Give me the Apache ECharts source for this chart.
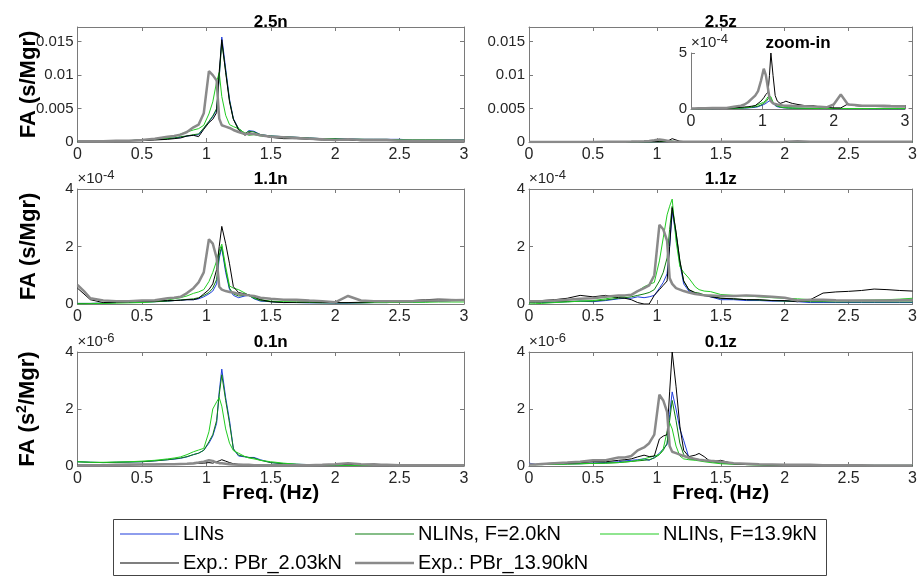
<!DOCTYPE html>
<html>
<head>
<meta charset="utf-8">
<script src="https://cdn.jsdelivr.net/npm/echarts@6/dist/echarts.min.js"></script>
<style>
  html, body { margin: 0; padding: 0; background: #ffffff; }
  #chart { width: 920px; height: 577px; }
</style>
</head>
<body>
<div id="chart"></div>
<script>
// Frequency grid (Hz) shared by every spectrum
const FREQ = [0, 0.05, 0.1, 0.2, 0.3, 0.4, 0.5, 0.6, 0.7, 0.75, 0.8, 0.85, 0.9, 0.94, 0.98, 1.02, 1.05, 1.08, 1.1, 1.12,
  1.15, 1.18, 1.21, 1.25, 1.3, 1.33, 1.37, 1.42, 1.5, 1.6, 1.7, 1.8, 1.9, 2.0, 2.1, 2.2, 2.3, 2.4, 2.5, 2.6, 2.7, 2.8, 2.9, 3.0];

const SERIES_NAMES = ['LINs', 'NLINs, F=2.0kN', 'NLINs, F=13.9kN', 'Exp.: PBr_2.03kN', 'Exp.: PBr_13.90kN'];

// 2.5n, FA in units of 1e-3 s/Mgr
const lin_25n  = [0.1,0.1,0.1,0.1,0.2,0.2,0.3,0.4,0.5,0.6,0.7,0.9,1.0,1.1,2.0,3.0,3.8,4.8,9.5,15.7,11.0,6.4,3.5,2.0,1.2,1.7,1.6,1.1,0.9,0.8,0.7,0.6,0.5,0.5,0.5,0.4,0.4,0.4,0.4,0.3,0.3,0.3,0.3,0.3];
const nl2_25n  = [0.1,0.1,0.1,0.1,0.2,0.2,0.3,0.4,0.5,0.6,0.8,0.9,1.1,1.2,2.1,3.1,3.9,5.0,9.8,14.9,10.6,6.2,3.4,2.0,1.3,1.6,1.5,1.1,0.9,0.8,0.7,0.6,0.5,0.5,0.4,0.4,0.4,0.4,0.3,0.3,0.3,0.3,0.3,0.3];
const nl13_25n = [0.1,0.1,0.1,0.1,0.2,0.2,0.3,0.4,0.6,0.8,1.2,1.5,1.8,2.0,2.5,4.2,6.0,9.0,10.4,6.8,4.0,2.6,2.3,2.0,1.3,1.0,1.1,0.9,0.8,0.6,0.6,0.5,0.5,0.4,0.4,0.4,0.3,0.3,0.3,0.3,0.3,0.3,0.2,0.2];
const exp2_25n = [0.1,0.1,0.1,0.1,0.1,0.2,0.2,0.3,0.4,0.5,0.6,0.9,1.0,0.8,1.9,2.9,3.4,4.4,10.5,15.3,10.4,6.0,3.4,1.8,1.0,1.4,1.2,1.0,0.7,0.5,0.5,0.4,0.3,0.3,0.3,0.2,0.2,0.2,0.2,0.2,0.2,0.2,0.2,0.2];
const exp13_25n = [0.1,0.1,0.1,0.1,0.2,0.2,0.3,0.5,0.8,0.9,1.1,1.5,2.2,2.6,4.3,10.6,10.0,9.2,3.5,2.5,2.3,2.1,1.8,1.5,1.2,1.2,1.2,1.0,0.8,0.7,0.6,0.5,0.4,0.3,0.4,0.3,0.3,0.3,0.2,0.2,0.2,0.2,0.2,0.2];

// 2.5z, FA in units of 1e-4 s/Mgr (main panel and zoom-in)
const lin_25z  = [0.02,0.02,0.02,0.03,0.03,0.04,0.05,0.06,0.08,0.09,0.1,0.12,0.15,0.2,0.3,0.4,0.5,0.65,0.8,0.8,0.5,0.3,0.2,0.15,0.1,0.1,0.08,0.07,0.06,0.05,0.05,0.04,0.04,0.03,0.03,0.03,0.03,0.03,0.02,0.02,0.02,0.02,0.02,0.02];
const nl2_25z  = [0.02,0.02,0.02,0.03,0.03,0.04,0.05,0.06,0.08,0.1,0.12,0.15,0.2,0.25,0.35,0.5,0.65,0.9,1.1,1.0,0.6,0.35,0.25,0.18,0.12,0.1,0.09,0.08,0.07,0.06,0.05,0.05,0.04,0.04,0.04,0.03,0.03,0.03,0.03,0.03,0.03,0.02,0.02,0.02];
const nl13_25z = [0.02,0.02,0.02,0.03,0.04,0.05,0.06,0.08,0.1,0.12,0.15,0.2,0.3,0.4,0.5,0.6,0.8,1.1,1.25,1.1,0.6,0.4,0.3,0.2,0.15,0.12,0.1,0.09,0.08,0.07,0.06,0.05,0.05,0.05,0.04,0.04,0.04,0.04,0.04,0.04,0.04,0.04,0.04,0.04];
const exp2_25z = [0.05,0.05,0.05,0.05,0.06,0.07,0.08,0.1,0.15,0.18,0.2,0.25,0.3,0.5,0.7,1.0,1.3,1.5,3.0,5.0,3.0,1.2,0.7,0.5,0.6,0.7,0.6,0.5,0.4,0.3,0.3,0.2,0.15,0.1,0.1,0.45,0.3,0.25,0.25,0.22,0.2,0.2,0.2,0.2];
const exp13_25z = [0.05,0.05,0.06,0.07,0.08,0.09,0.1,0.2,0.3,0.4,0.6,0.9,1.2,1.6,2.5,3.6,3.0,1.8,1.0,0.7,0.5,0.45,0.4,0.35,0.3,0.3,0.3,0.28,0.25,0.25,0.22,0.2,0.15,0.4,1.3,0.4,0.35,0.3,0.3,0.28,0.28,0.26,0.25,0.25];

// 1.1n, FA in units of 1e-4 s/Mgr
const lin_11n  = [0.02,0.02,0.02,0.03,0.05,0.06,0.07,0.08,0.1,0.12,0.13,0.15,0.15,0.18,0.25,0.35,0.45,0.7,1.6,1.95,1.1,0.5,0.3,0.22,0.28,0.3,0.18,0.1,0.08,0.05,0.05,0.04,0.04,0.03,0.03,0.04,0.05,0.05,0.06,0.07,0.08,0.1,0.12,0.14];
const nl2_11n  = [0.02,0.02,0.02,0.03,0.05,0.06,0.07,0.08,0.1,0.12,0.14,0.16,0.18,0.22,0.3,0.4,0.55,0.85,1.7,2.0,1.2,0.55,0.35,0.28,0.3,0.3,0.2,0.12,0.08,0.06,0.05,0.05,0.04,0.04,0.04,0.04,0.05,0.05,0.06,0.07,0.08,0.1,0.12,0.13];
const nl13_11n = [0.0,0.0,0.01,0.02,0.03,0.04,0.05,0.08,0.14,0.18,0.22,0.28,0.37,0.42,0.5,0.78,1.1,1.5,1.85,2.08,1.3,0.63,0.55,0.5,0.38,0.3,0.22,0.15,0.1,0.08,0.07,0.06,0.05,0.05,0.05,0.05,0.05,0.05,0.06,0.06,0.06,0.07,0.07,0.07];
const exp2_11n = [0.55,0.35,0.15,0.05,0.07,0.08,0.1,0.1,0.12,0.12,0.13,0.15,0.15,0.2,0.35,0.5,0.7,1.2,2.0,2.7,2.1,1.4,0.6,0.4,0.35,0.32,0.25,0.15,0.08,0.05,0.06,0.07,0.06,0.05,0.05,0.06,0.08,0.1,0.1,0.12,0.15,0.17,0.16,0.15];
const exp13_11n = [0.66,0.45,0.2,0.12,0.1,0.1,0.12,0.13,0.2,0.22,0.25,0.38,0.55,0.75,1.1,2.25,2.1,1.6,0.6,0.5,0.45,0.42,0.4,0.35,0.32,0.3,0.28,0.22,0.18,0.15,0.15,0.12,0.1,0.06,0.28,0.12,0.1,0.1,0.1,0.1,0.12,0.12,0.13,0.14];

// 1.1z, FA in units of 1e-4 s/Mgr
const lin_11z  = [0.05,0.05,0.05,0.06,0.08,0.1,0.08,0.12,0.18,0.2,0.2,0.25,0.22,0.25,0.3,0.55,0.75,1.05,2.0,3.2,2.4,1.4,0.7,0.45,0.35,0.35,0.3,0.25,0.15,0.15,0.12,0.12,0.1,0.1,0.08,0.05,0.05,0.05,0.05,0.05,0.05,0.05,0.05,0.05];
const nl2_11z  = [0.05,0.05,0.06,0.07,0.09,0.1,0.1,0.14,0.2,0.22,0.25,0.3,0.35,0.4,0.5,0.8,1.1,1.6,2.6,3.4,2.5,1.5,0.8,0.5,0.4,0.38,0.32,0.28,0.2,0.18,0.15,0.14,0.12,0.1,0.1,0.08,0.08,0.07,0.07,0.07,0.07,0.07,0.07,0.07];
const nl13_11z = [0.0,0.01,0.02,0.05,0.07,0.1,0.12,0.18,0.25,0.28,0.32,0.45,0.6,0.68,0.75,1.5,2.3,3.1,3.4,3.65,2.2,1.3,1.1,0.9,0.6,0.5,0.45,0.43,0.33,0.3,0.28,0.25,0.22,0.2,0.18,0.15,0.12,0.12,0.12,0.13,0.14,0.15,0.17,0.2];
const exp2_11z = [0.1,0.1,0.12,0.15,0.2,0.3,0.25,0.3,0.22,0.2,0.15,0.05,0.0,0.0,0.3,0.5,0.65,0.8,2.0,3.35,2.5,1.5,0.8,0.5,0.38,0.35,0.3,0.25,0.2,0.18,0.15,0.15,0.12,0.12,0.08,0.15,0.38,0.42,0.44,0.47,0.52,0.5,0.47,0.45];
const exp13_11z = [0.1,0.1,0.1,0.12,0.15,0.18,0.2,0.25,0.3,0.3,0.32,0.45,0.55,0.65,1.0,2.75,2.6,2.2,0.9,0.7,0.55,0.5,0.45,0.4,0.35,0.33,0.3,0.3,0.28,0.28,0.3,0.28,0.25,0.22,0.12,0.15,0.15,0.13,0.12,0.12,0.12,0.12,0.13,0.14];

// 0.1n, FA in units of 1e-6 s^2/Mgr
const lin_01n  = [0.15,0.14,0.13,0.12,0.13,0.14,0.15,0.18,0.22,0.24,0.27,0.32,0.4,0.45,0.55,0.8,1.05,1.5,2.6,3.4,2.4,1.6,0.6,0.35,0.32,0.3,0.3,0.22,0.12,0.08,0.06,0.05,0.04,0.03,0.03,0.02,0.02,0.02,0.02,0.02,0.02,0.02,0.02,0.02];
const nl2_01n  = [0.15,0.14,0.13,0.12,0.13,0.14,0.15,0.18,0.22,0.25,0.28,0.33,0.4,0.45,0.55,0.85,1.1,1.6,2.5,3.2,2.3,1.5,0.6,0.38,0.33,0.3,0.28,0.2,0.12,0.08,0.06,0.05,0.04,0.03,0.03,0.02,0.02,0.02,0.02,0.02,0.02,0.02,0.02,0.02];
const nl13_01n = [0.15,0.14,0.13,0.13,0.14,0.15,0.17,0.2,0.25,0.28,0.32,0.4,0.5,0.56,0.62,1.2,2.0,2.25,2.4,2.1,1.3,0.8,0.54,0.45,0.33,0.28,0.25,0.2,0.15,0.1,0.06,0.04,0.03,0.03,0.02,0.02,0.02,0.02,0.02,0.02,0.02,0.02,0.02,0.02];
const exp2_01n = [0.05,0.05,0.05,0.05,0.05,0.06,0.06,0.06,0.07,0.07,0.08,0.08,0.08,0.09,0.1,0.12,0.1,0.15,0.18,0.22,0.17,0.12,0.08,0.06,0.05,0.05,0.05,0.04,0.04,0.04,0.04,0.04,0.04,0.05,0.06,0.05,0.07,0.04,0.04,0.04,0.04,0.04,0.04,0.04];
const exp13_01n = [0.03,0.03,0.03,0.03,0.04,0.04,0.05,0.05,0.06,0.06,0.07,0.08,0.1,0.12,0.15,0.2,0.18,0.12,0.1,0.1,0.08,0.06,0.05,0.04,0.04,0.04,0.03,0.03,0.03,0.03,0.03,0.03,0.04,0.06,0.1,0.06,0.04,0.04,0.03,0.03,0.03,0.03,0.03,0.03];

// 0.1z, FA in units of 1e-6 s^2/Mgr
const lin_01z  = [0.1,0.06,0.05,0.07,0.08,0.08,0.1,0.12,0.15,0.18,0.2,0.22,0.25,0.2,0.3,0.45,0.6,0.75,1.8,2.6,2.0,1.3,0.9,0.3,0.25,0.22,0.2,0.18,0.12,0.08,0.06,0.05,0.04,0.03,0.03,0.02,0.02,0.02,0.02,0.02,0.02,0.02,0.02,0.02];
const nl2_01z  = [0.05,0.05,0.05,0.06,0.07,0.08,0.09,0.1,0.12,0.14,0.16,0.18,0.2,0.22,0.28,0.4,0.55,0.8,1.6,2.3,1.6,0.8,0.4,0.25,0.22,0.2,0.18,0.15,0.1,0.07,0.05,0.04,0.03,0.03,0.02,0.02,0.02,0.02,0.02,0.02,0.02,0.02,0.02,0.02];
const nl13_01z = [0.05,0.05,0.05,0.06,0.07,0.08,0.09,0.1,0.12,0.14,0.16,0.2,0.25,0.3,0.35,0.4,0.6,1.2,1.52,1.3,0.7,0.35,0.25,0.22,0.2,0.18,0.15,0.12,0.08,0.06,0.05,0.04,0.03,0.03,0.02,0.02,0.02,0.02,0.02,0.02,0.02,0.02,0.02,0.02];
const exp2_01z = [0.05,0.05,0.08,0.1,0.1,0.12,0.15,0.15,0.2,0.22,0.25,0.32,0.38,0.33,0.35,0.95,1.05,1.1,2.6,4.0,2.8,1.4,0.55,0.33,0.38,0.44,0.33,0.15,0.2,0.08,0.05,0.05,0.04,0.04,0.03,0.03,0.04,0.03,0.02,0.02,0.02,0.02,0.02,0.02];
const exp13_01z = [0.05,0.05,0.07,0.1,0.12,0.15,0.2,0.2,0.3,0.3,0.35,0.55,0.65,0.8,1.1,2.5,2.3,1.9,0.7,0.5,0.45,0.4,0.35,0.3,0.25,0.22,0.2,0.18,0.15,0.1,0.08,0.06,0.05,0.04,0.04,0.04,0.03,0.03,0.03,0.03,0.02,0.02,0.02,0.02];

// Line style for each series, in SERIES_NAMES order
const LINE_STYLES = [
  { color: '#1f3ddc', width: 1 },
  { color: '#0f7f12', width: 1 },
  { color: '#22cc22', width: 1 },
  { color: '#000000', width: 1 },
  { color: '#8a8a8a', width: 2.5 }
];

const FONT = '"Liberation Sans", Arial, Helvetica, sans-serif';
const AXIS_COLOR = '#7a7a7a';
const TEXT_COLOR = '#262626';

const panels = [
  { title: '2.5n', sets: [lin_25n, nl2_25n, nl13_25n, exp2_25n, exp13_25n], unit: 1e-3,
    yMax: 0.0172, yStep: 0.005, xStep: 0.5, box: { left: 77.5, top: 27, width: 386.5, height: 115 },
    yTitle: 'FA (s/Mgr)', titleGap: -4 },
  { title: '2.5z', sets: [lin_25z, nl2_25z, nl13_25z, exp2_25z, exp13_25z], unit: 1e-4,
    yMax: 0.0172, yStep: 0.005, xStep: 0.5, box: { left: 529, top: 27, width: 387, height: 115 }, titleGap: -4 },
  { title: '1.1n', sets: [lin_11n, nl2_11n, nl13_11n, exp2_11n, exp13_11n], unit: 1,
    yMax: 4, yStep: 2, xStep: 0.5, box: { left: 77.5, top: 189, width: 386.5, height: 115 },
    yTitle: 'FA (s/Mgr)', exp: '-4', titleGap: 1 },
  { title: '1.1z', sets: [lin_11z, nl2_11z, nl13_11z, exp2_11z, exp13_11z], unit: 1,
    yMax: 4, yStep: 2, xStep: 0.5, box: { left: 529, top: 189, width: 387, height: 115 }, exp: '-4', titleGap: 1 },
  { title: '0.1n', sets: [lin_01n, nl2_01n, nl13_01n, exp2_01n, exp13_01n], unit: 1,
    yMax: 4, yStep: 2, xStep: 0.5, box: { left: 77.5, top: 352, width: 386.5, height: 114 },
    yTitle: 'FA (s{sup|2}/Mgr)', exp: '-6', xTitle: 'Freq. (Hz)', titleGap: 1 },
  { title: '0.1z', sets: [lin_01z, nl2_01z, nl13_01z, exp2_01z, exp13_01z], unit: 1,
    yMax: 4, yStep: 2, xStep: 0.5, box: { left: 529, top: 352, width: 387, height: 114 },
    exp: '-6', xTitle: 'Freq. (Hz)', titleGap: 1 },
  { title: 'zoom-in', sets: [lin_25z, nl2_25z, nl13_25z, exp2_25z, exp13_25z], unit: 1,
    yMax: 5, yStep: 5, xStep: 1, box: { left: 691, top: 53, width: 214, height: 56 },
    exp: '-4', inset: true, titleGap: 1 }
];

const grids = [], xAxes = [], yAxes = [], series = [];

function tickFormatter(step) {
  return function (v) {
    const k = v / step;
    if (Math.abs(k - Math.round(k)) > 1e-6) return '';
    return String(+v.toFixed(6));
  };
}

panels.forEach(function (p, gi) {
  grids.push(Object.assign({ containLabel: false }, p.box));
  const axisLine = { show: true, onZero: false, lineStyle: { color: AXIS_COLOR, width: 1 } };
  const axisTick = { show: true, inside: true, length: 4, lineStyle: { color: AXIS_COLOR } };

  const xBottom = xAxes.length;
  xAxes.push({
    gridIndex: gi, type: 'value', min: 0, max: 3, interval: p.xStep, position: 'bottom',
    axisLine: axisLine, axisTick: axisTick, splitLine: { show: false },
    axisLabel: { color: TEXT_COLOR, fontSize: 16, margin: 5, fontFamily: FONT },
    name: p.xTitle || '', nameLocation: 'middle', nameGap: 17, nameMoveOverlap: false,
    nameTextStyle: { color: '#000', fontSize: 21, fontWeight: 'bold', fontFamily: FONT }
  });
  xAxes.push({
    gridIndex: gi, type: 'value', min: 0, max: 3, interval: p.xStep, position: 'top',
    axisLine: Object.assign({}, axisLine, { show: !p.inset }),
    axisTick: Object.assign({}, axisTick, { show: !p.inset }),
    axisLabel: { show: false }, splitLine: { show: false },
    name: p.title, nameLocation: 'middle', nameGap: p.titleGap, nameMoveOverlap: false,
    nameTextStyle: { color: '#000', fontSize: 17, fontWeight: 'bold', fontFamily: FONT }
  });

  const yLeft = yAxes.length;
  yAxes.push({
    gridIndex: gi, type: 'value', min: 0, max: p.yMax, interval: p.yStep, position: 'left',
    axisLine: axisLine, axisTick: axisTick, splitLine: { show: false },
    axisLabel: { color: TEXT_COLOR, fontSize: 15, margin: 4, fontFamily: FONT, formatter: tickFormatter(p.yStep) },
    name: p.yTitle || '', nameLocation: 'middle', nameGap: 38, nameRotate: 90, nameMoveOverlap: false,
    nameTextStyle: {
      color: '#000', fontSize: 22, fontWeight: 'bold', fontFamily: FONT,
      rich: { sup: { fontSize: 14, fontWeight: 'bold', fontFamily: FONT, color: '#000', padding: [0, 0, 10, 0] } }
    }
  });
  if (!p.inset) {
    yAxes.push({
      gridIndex: gi, type: 'value', min: 0, max: p.yMax, interval: p.yStep, position: 'right',
      axisLine: axisLine, axisTick: axisTick, axisLabel: { show: false }, splitLine: { show: false }
    });
  }
  if (p.exp) {
    // exponent of the tick labels, written above the top-left corner
    yAxes.push({
      gridIndex: gi, type: 'value', min: 0, max: 1, position: 'left',
      axisLine: { show: false }, axisTick: { show: false }, axisLabel: { show: false }, splitLine: { show: false },
      name: '{b|\u00d710}{s|' + p.exp + '}', nameLocation: 'end', nameGap: 1, nameMoveOverlap: false,
      nameTextStyle: {
        align: 'left', verticalAlign: 'bottom',
        rich: {
          b: { fontSize: 15, color: TEXT_COLOR, fontFamily: FONT },
          s: { fontSize: 13, color: TEXT_COLOR, fontFamily: FONT, padding: [0, 0, 6, 0] }
        }
      }
    });
  }

  p.sets.forEach(function (values, si) {
    const st = LINE_STYLES[si];
    series.push({
      type: 'line', name: SERIES_NAMES[si], xAxisIndex: xBottom, yAxisIndex: yLeft,
      data: FREQ.map(function (f, k) { return [f, values[k] * p.unit]; }),
      symbol: 'none', silent: true,
      lineStyle: { color: st.color, width: st.width },
      itemStyle: { color: st.color },
      emphasis: { disabled: true }
    });
  });
});

// Legend: one component per entry so the three columns line up
const legendSlots = [
  { name: SERIES_NAMES[0], left: 120, top: 524, h: 1.2 },
  { name: SERIES_NAMES[1], left: 355, top: 524, h: 1.2 },
  { name: SERIES_NAMES[2], left: 600, top: 524, h: 1.2 },
  { name: SERIES_NAMES[3], left: 120, top: 553, h: 1.2 },
  { name: SERIES_NAMES[4], left: 355, top: 553, h: 2.5 }
];
const legends = legendSlots.map(function (s) {
  return {
    data: [s.name], left: s.left, top: s.top, padding: 0, orient: 'horizontal',
    icon: 'rect', itemWidth: 59, itemHeight: s.h, itemGap: 0, selectedMode: false,
    textStyle: { color: '#000', fontSize: 20, fontFamily: FONT, padding: [0, 0, 0, -1] }
  };
});

const chart = echarts.init(document.getElementById('chart'), null, { renderer: 'canvas' });
chart.setOption({
  backgroundColor: '#ffffff',
  animation: false,
  textStyle: { fontFamily: FONT },
  grid: grids,
  xAxis: xAxes,
  yAxis: yAxes,
  legend: legends,
  graphic: [{
    type: 'rect', silent: true, z: 0,
    shape: { x: 113.5, y: 519.5, width: 713, height: 56 },
    style: { fill: 'none', stroke: '#444', lineWidth: 1 }
  }],
  series: series
});
</script>
</body>
</html>
